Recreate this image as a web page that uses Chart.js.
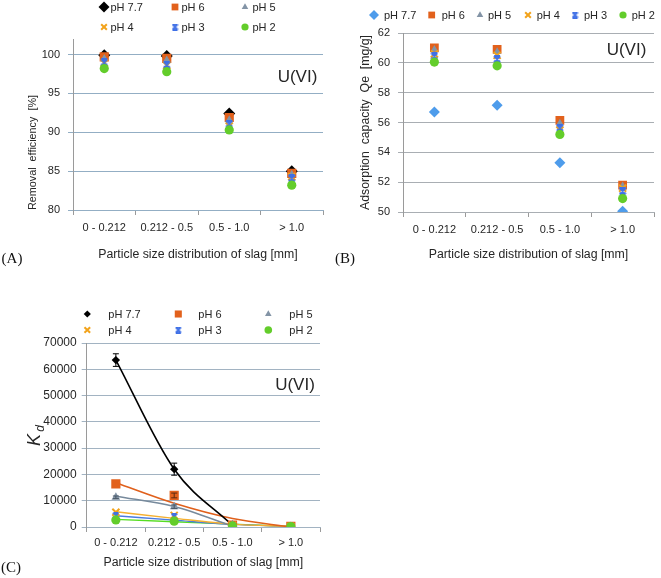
<!DOCTYPE html>
<html><head><meta charset="utf-8">
<script src="https://cdn.jsdelivr.net/npm/chart.js@4.4.1/dist/chart.umd.min.js"></script>
<style>
html,body{margin:0;padding:0;background:#fff;}
#wrap{position:relative;width:661px;height:578px;overflow:hidden;background:#fff;}
#wrap canvas{position:absolute;}
</style></head><body>
<div id="wrap">
<canvas id="cA" width="330" height="280" style="left:0;top:0;width:330px;height:280px"></canvas>
<canvas id="cB" width="331" height="280" style="left:330px;top:0;width:331px;height:280px"></canvas>
<canvas id="cC" width="330" height="288" style="left:0;top:290px;width:330px;height:288px"></canvas>
</div>
<script>
// ---------------- DATA ----------------
const categories = ['0 - 0.212', '0.212 - 0.5', '0.5 - 1.0', '> 1.0'];
const phLabels = ['pH 7.7', 'pH 6', 'pH 5', 'pH 4', 'pH 3', 'pH 2'];

// (A) Removal efficiency [%]
const removalPH77 = [99.9, 99.8, 92.4, 85.0];
const removalPH6  = [99.7, 99.5, 91.9, 84.7];
const removalPH5  = [99.5, 99.3, 91.6, 84.6];
const removalPH4  = [98.9, 98.6, 90.8, 84.3];
const removalPH3  = [99.0, 98.7, 91.1, 84.1];
const removalPH2  = [98.2, 97.8, 90.3, 83.2];
const yTicksA = [80, 85, 90, 95, 100];

// (B) Adsorption capacity Qe [mg/g]
const qePH77 = [56.7, 57.15, 53.3, 50.05];
const qePH6  = [61.0, 60.9, 56.15, 51.8];
const qePH5  = [60.9, 60.75, 55.95, 51.75];
const qePH4  = [60.6, 60.5, 55.5, 51.6];
const qePH3  = [60.45, 60.25, 55.65, 51.4];
const qePH2  = [60.05, 59.8, 55.2, 50.9];
const yTicksB = [50, 52, 54, 56, 58, 60, 62];

// (C) Kd
const kdPH77 = [63500, 22000, 900, 250];
const kdPH6  = [16400, 12000, 700, 230];
const kdPH5  = [11300, 7700, 800, 220];
const kdPH4  = [5600, 4400, 600, 200];
const kdPH3  = [4400, 4000, 500, 180];
const kdPH2  = [2700, 2200, 400, 150];
const kdErrPH77 = [2400, 2300, 0, 0];
const kdErrPH6  = [0, 900, 0, 0];
const kdErrPH5  = [500, 700, 0, 0];
// trend lines
const kdTrendPH77 = [63500, 22000, 600, null];
const kdTrendPH6  = [16800, 9000, 3200, 0];
const kdTrendPH5  = [11700, 7800, 300, null];
const kdTrendPH4  = [5800, 3300, 1100, 200];
const kdTrendPH3  = [4300, 2600, 1000, 200];
const kdTrendPH2  = [2900, 2000, 1100, 200];
const yTicksC = [0, 10000, 20000, 30000, 40000, 50000, 60000, 70000];

// ---------------- STYLE ----------------
const FONT = "'Liberation Sans', Arial, Helvetica, sans-serif";
const TEXT = '#262626';
const COL = {black:'#000000', orange:'#E2611C', gray:'#8394A6', gold:'#F2A31B', blue:'#3E6FE6', green:'#63CD2B', lightBlue:'#4E9CEB'};

function hourglass(size, color, lw){
  const c = document.createElement('canvas'); c.width = size; c.height = size;
  const g = c.getContext('2d'); g.strokeStyle = color; g.lineWidth = lw; g.lineCap = 'butt';
  const a = lw/2, b = size - lw/2;
  g.beginPath();
  g.moveTo(a,a); g.lineTo(b,b); g.moveTo(b,a); g.lineTo(a,b);
  g.moveTo(a,a); g.lineTo(b,a); g.moveTo(a,b); g.lineTo(b,b);
  g.stroke();
  return c;
}

function pointDS(label, data, style, color, radius, order, extra){
  const lineStyle = (style === 'crossRot' || style === 'cross' || style === 'star');
  return Object.assign({
    label, data, showLine:false, pointStyle:style, pointRadius:radius, pointHoverRadius:radius,
    pointBackgroundColor:color, pointBorderColor:color, pointBorderWidth: lineStyle ? 2 : 0,
    backgroundColor:color, borderColor:color, order
  }, extra || {});
}

function trendDS(data, color, width){
  return {label:'', data, type:'line', showLine:true, pointRadius:0, borderColor:color, backgroundColor:color,
    borderWidth:width, cubicInterpolationMode:'monotone', fill:false, spanGaps:false, order:20, isTrend:true};
}

function ownDrawPoint(ctx, style, r, x, y){
  if (style && typeof style === 'object') { ctx.drawImage(style, x - style.width/2, y - style.height/2); return; }
  ctx.beginPath();
  if (style === 'circle') ctx.arc(x, y, r, 0, Math.PI*2);
  else if (style === 'rect') { const s = r*Math.SQRT1_2; ctx.rect(x-s, y-s, 2*s, 2*s); }
  else if (style === 'rectRot') { ctx.moveTo(x, y-r); ctx.lineTo(x+r, y); ctx.lineTo(x, y+r); ctx.lineTo(x-r, y); ctx.closePath(); }
  else if (style === 'triangle') { ctx.moveTo(x - Math.sin(Math.PI/3)*r, y + r/2); ctx.lineTo(x, y - r); ctx.lineTo(x + Math.sin(Math.PI/3)*r, y + r/2); ctx.closePath(); }
  else if (style === 'crossRot') { const s = r*Math.SQRT1_2; ctx.moveTo(x-s,y-s); ctx.lineTo(x+s,y+s); ctx.moveTo(x+s,y-s); ctx.lineTo(x-s,y+s); ctx.stroke(); return; }
  ctx.fill();
}

function legendPlugin(items, fontSize){
  return { id:'customLegend', afterDraw(chart){
    const ctx = chart.ctx; ctx.save();
    items.forEach(it => {
      const ds = chart.data.datasets[it.ds];
      const style = it.img || ds.pointStyle;
      ctx.fillStyle = ds.pointBackgroundColor; ctx.strokeStyle = ds.pointBorderColor;
      ctx.lineWidth = ds.pointBorderWidth || 1;
      ownDrawPoint(ctx, style, it.r, it.mx, it.y);
      ctx.fillStyle = TEXT; ctx.font = fontSize + 'px ' + FONT;
      ctx.textAlign = 'left'; ctx.textBaseline = 'middle';
      ctx.fillText(ds.label, it.tx, it.y + 0.5);
    });
    ctx.restore();
  }};
}

function textPlugin(list){
  return { id:'texts', afterDraw(chart){
    const ctx = chart.ctx;
    list.forEach(t => {
      ctx.save(); ctx.font = t.font; ctx.fillStyle = t.color || TEXT;
      ctx.textAlign = t.align || 'center'; ctx.textBaseline = 'middle';
      ctx.translate(t.x, t.y); if (t.rot) ctx.rotate(t.rot);
      ctx.fillText(t.text, t.dx || 0, t.dy || 0); ctx.restore();
    });
  }};
}

const errorBarPlugin = { id:'errbars', afterDatasetsDraw(chart){
  const ctx = chart.ctx, x = chart.scales.x, y = chart.scales.y;
  chart.data.datasets.forEach(ds => {
    if (!ds.errors) return;
    ds.errors.forEach((e, j) => {
      if (!e) return;
      const v = ds.data[j], px = x.getPixelForValue(j);
      const t = y.getPixelForValue(v + e), b = y.getPixelForValue(v - e);
      ctx.save(); ctx.strokeStyle = ds.errColor || '#000'; ctx.lineWidth = 1;
      ctx.beginPath(); ctx.moveTo(px, t); ctx.lineTo(px, b);
      ctx.moveTo(px-3, t); ctx.lineTo(px+3, t); ctx.moveTo(px-3, b); ctx.lineTo(px+3, b);
      ctx.stroke(); ctx.restore();
    });
  });
}};

function scales(o){
  return {
    x: { type:'category', offset:true,
      grid:{ display:true, offset:true, drawOnChartArea:false, drawTicks:true, tickLength:5, color:o.axisColor },
      border:{ display:true, color:o.gridColor, width:1 },
      ticks:{ font:{family:FONT, size:o.xTickSize}, color:TEXT, padding:o.xTickPad, maxRotation:0, autoSkip:false },
      title:{ display:true, text:'Particle size distribution of slag [mm]', font:{family:FONT, size:12.3}, color:TEXT, padding:{top:0, bottom:o.xTitlePad} },
      afterFit: s => { s.height = o.xHeight; }
    },
    y: { min:o.yMin, max:o.yMax,
      afterBuildTicks: s => { s.ticks = o.yTicks.map(v => ({value:v})); },
      grid:{ color:o.gridColor, tickLength:5, drawTicks:true, lineWidth:1 },
      border:{ display:true, color:o.axisColor, width:1 },
      ticks:{ font:{family:FONT, size:o.yTickSize}, color:TEXT, padding:o.yTickPad, callback: v => String(v) },
      title: o.yTitle ? { display:true, text:o.yTitle, align:o.yTitleAlign || 'center', font:{family:FONT, size:o.yTitleSize}, color:TEXT, padding:{top:o.yTitlePad, bottom:0} } : {display:false},
      afterFit: s => { s.width = o.yWidth; }
    }
  };
}

const common = { responsive:false, animation:false, events:[], devicePixelRatio:1,
  plugins:{ legend:{display:false}, tooltip:{enabled:false} } };

// ---------------- CHART A ----------------
const hgA = hourglass(8, COL.blue, 2), hgAl = hourglass(7, COL.blue, 1.8);
new Chart(document.getElementById('cA'), {
  type:'line',
  data:{ labels:categories, datasets:[
    pointDS(phLabels[0], removalPH77, 'rectRot', COL.black, 6, 6),
    pointDS(phLabels[1], removalPH6, 'rect', COL.orange, 6.5, 5),
    pointDS(phLabels[2], removalPH5, 'triangle', COL.gray, 4.5, 4),
    pointDS(phLabels[3], removalPH4, 'crossRot', COL.gold, 5, 3),
    pointDS(phLabels[4], removalPH3, hgA, COL.blue, 4, 2),
    pointDS(phLabels[5], removalPH2, 'circle', COL.green, 4.6, 1)
  ]},
  options: Object.assign({}, common, {
    layout:{ padding:{left:0, right:4, top:39, bottom:10} },
    scales: scales({ yTicks:yTicksA, yMin:80, yMax:102, yWidth:73, xHeight:60, gridColor:'#93AEC4', axisColor:'#9A9A9A',
      xTickSize:11, xTickPad:6, xTitlePad:8.5, yTickSize:11, yTickPad:8,
      yTitle:'Removal  efficiency  [%]', yTitleSize:10.8, yTitlePad:27, yTitleAlign:'start' })
  }),
  plugins:[ legendPlugin([
    {ds:0, mx:104, tx:110.5, y:7, r:5.5}, {ds:1, mx:175, tx:181.5, y:7, r:4.8}, {ds:2, mx:245, tx:252.5, y:7, r:3.8},
    {ds:3, mx:104, tx:110.5, y:27, r:4}, {ds:4, mx:175, tx:181.5, y:27, r:3, img:hgAl}, {ds:5, mx:245, tx:252.5, y:27, r:3.6}
  ], 11), textPlugin([
    {text:'U(VI)', x:297.5, y:77, font:'17px ' + FONT},
    {text:'(A)', x:12, y:259, font:'15px "Liberation Serif", "Times New Roman", serif', color:'#111'}
  ]) ]
});

// ---------------- CHART B ----------------
const hgB = hourglass(8, COL.blue, 2), hgBl = hourglass(7, COL.blue, 1.8);
new Chart(document.getElementById('cB'), {
  type:'line',
  data:{ labels:categories, datasets:[
    pointDS(phLabels[0], qePH77, 'rectRot', COL.lightBlue, 5.5, 6),
    pointDS(phLabels[1], qePH6, 'rect', COL.orange, 6.2, 5),
    pointDS(phLabels[2], qePH5, 'triangle', COL.gray, 4.5, 4),
    pointDS(phLabels[3], qePH4, 'crossRot', COL.gold, 5, 3),
    pointDS(phLabels[4], qePH3, hgB, COL.blue, 4, 2),
    pointDS(phLabels[5], qePH2, 'circle', COL.green, 4.6, 1)
  ]},
  options: Object.assign({}, common, {
    layout:{ padding:{left:0, right:3, top:33, bottom:10} },
    scales: scales({ yTicks:yTicksB, yMin:50, yMax:62, yWidth:73, xHeight:58, gridColor:'#A9AEB3', axisColor:'#9A9A9A',
      xTickSize:11, xTickPad:6, xTitlePad:8.5, yTickSize:11, yTickPad:8,
      yTitle:'Adsorption  capacity  Qe  [mg/g]', yTitleSize:12.3, yTitlePad:28.5, yTitleAlign:'center' })
  }),
  plugins:[ legendPlugin([
    {ds:0, mx:44, tx:54, y:15, r:5}, {ds:1, mx:101.7, tx:111.7, y:15, r:4.8}, {ds:2, mx:150, tx:158, y:15, r:3.8},
    {ds:3, mx:198, tx:206.7, y:15, r:4}, {ds:4, mx:245, tx:254, y:15, r:3, img:hgBl}, {ds:5, mx:293, tx:301.7, y:15, r:3.6}
  ], 11), textPlugin([
    {text:'U(VI)', x:296.5, y:50, font:'17px ' + FONT},
    {text:'(B)', x:15, y:259, font:'15px "Liberation Serif", "Times New Roman", serif', color:'#111'}
  ]) ]
});

// ---------------- CHART C ----------------
const hgC = hourglass(7, COL.blue, 1.8), hgCl = hourglass(7, COL.blue, 1.8);
new Chart(document.getElementById('cC'), {
  type:'line',
  data:{ labels:categories, datasets:[
    pointDS(phLabels[0], kdPH77, 'rectRot', COL.black, 4.2, 6, {errors:kdErrPH77, errColor:'#000'}),
    pointDS(phLabels[1], kdPH6, 'rect', COL.orange, 6.5, 5, {errors:kdErrPH6, errColor:'#5a2a10'}),
    pointDS(phLabels[2], kdPH5, 'triangle', COL.gray, 5, 4, {errors:kdErrPH5, errColor:'#4a5866'}),
    pointDS(phLabels[3], kdPH4, 'crossRot', COL.gold, 5, 3),
    pointDS(phLabels[4], kdPH3, hgC, COL.blue, 4, 2),
    pointDS(phLabels[5], kdPH2, 'circle', COL.green, 4.6, 1),
    trendDS(kdTrendPH77, '#000000', 1.6),
    trendDS(kdTrendPH6, '#E0601C', 1.6),
    trendDS(kdTrendPH5, '#778A9C', 1.6),
    trendDS(kdTrendPH4, '#F5B030', 1.4),
    trendDS(kdTrendPH3, '#4A7BE0', 1.4),
    trendDS(kdTrendPH2, '#55DD22', 1.4)
  ]},
  options: Object.assign({}, common, {
    layout:{ padding:{left:0, right:10, top:53, bottom:6} },
    scales: scales({ yTicks:yTicksC, yMin:0, yMax:70000, yWidth:86.7, xHeight:45, gridColor:'#A2B3C2', axisColor:'#9A9A9A',
      xTickSize:11, xTickPad:4, xTitlePad:1.6, yTickSize:12, yTickPad:5, yTitle:null })
  }),
  plugins:[ errorBarPlugin, legendPlugin([
    {ds:0, mx:87.3, tx:108.3, y:24, r:3.6}, {ds:1, mx:178.3, tx:198.3, y:24, r:5}, {ds:2, mx:268.3, tx:289.3, y:24, r:3.8},
    {ds:3, mx:87.3, tx:108.3, y:40, r:4}, {ds:4, mx:178.3, tx:198.3, y:40, r:3, img:hgCl}, {ds:5, mx:268.3, tx:289.3, y:40, r:3.8}
  ], 11), textPlugin([
    {text:'U(VI)', x:295, y:95, font:'17px ' + FONT},
    {text:'K', x:35, y:150, rot:-Math.PI/2, font:'italic 18px ' + FONT},
    {text:'d', x:35, y:150, rot:-Math.PI/2, dx:11.5, dy:6, font:'italic 12px ' + FONT},
    {text:'(C)', x:11, y:278, font:'15px "Liberation Serif", "Times New Roman", serif', color:'#111'}
  ]) ]
});
</script>
</body></html>
